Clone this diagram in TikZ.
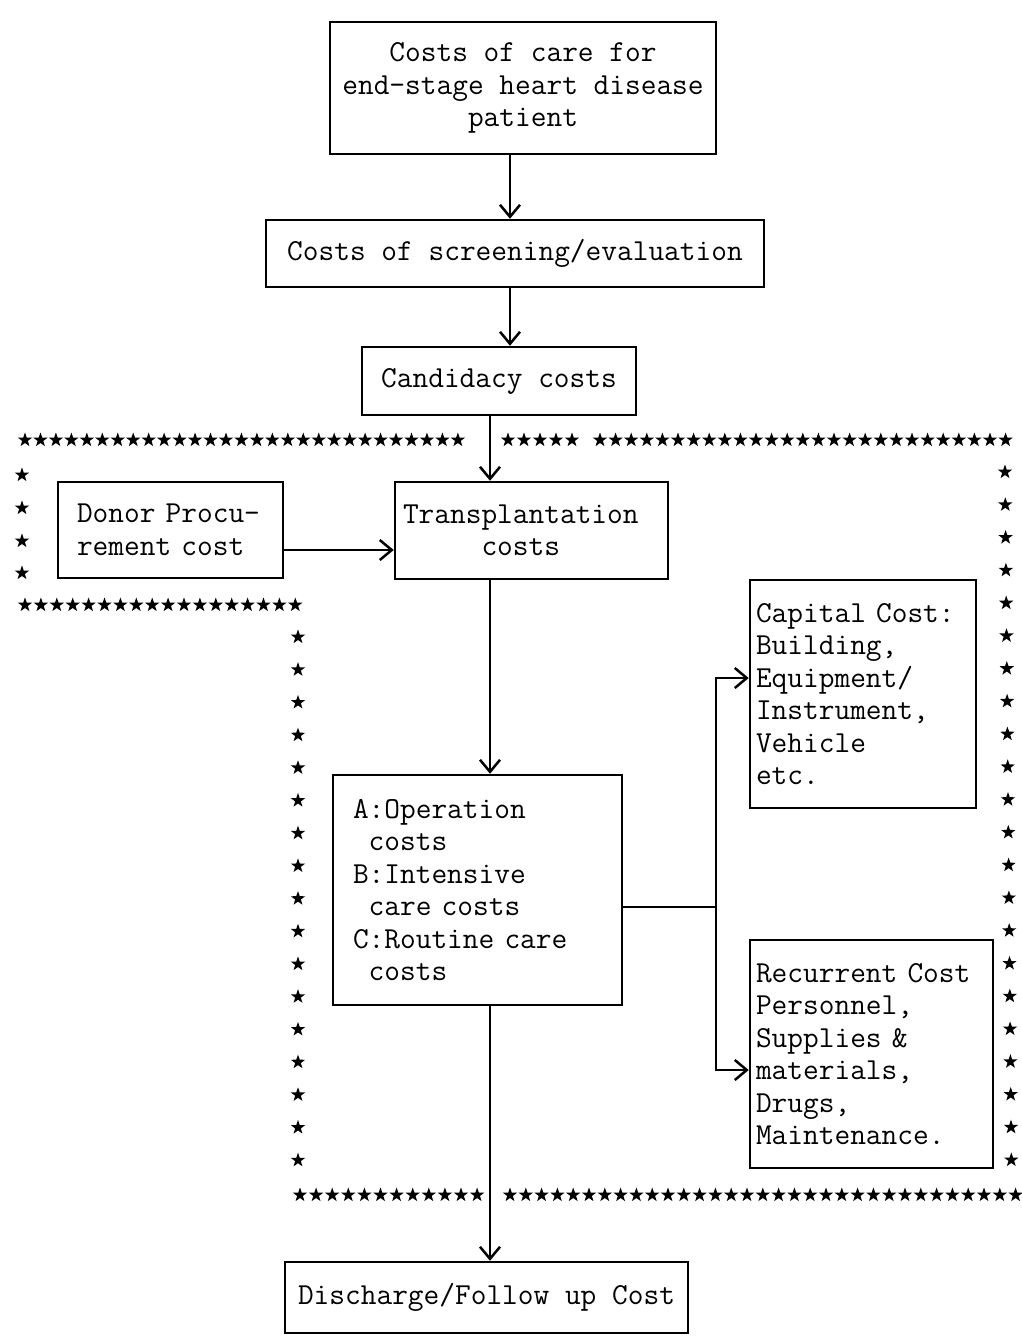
\documentclass[tikz,border=0pt]{standalone}
\usetikzlibrary{arrows.meta}
\begin{document}
\begin{tikzpicture}[x=1pt,y=-1pt,
  lw/.style={line width=2.5pt},
  box/.style={draw, lw, inner sep=0pt, font=\fontsize{30.5}{32.5}\selectfont\ttfamily},
  cbox/.style={box, align=center},
  lbox/.style={box, align=left},
  arr/.style={lw, -{Straight Barb[length=12pt,width=20pt]}},
  conn/.style={lw},
  astar/.pic={\fill (-90:7.5) -- (-54:3) -- (-18:7.5) -- (18:3) -- (54:7.5) -- (90:3) -- (126:7.5) -- (162:3) -- (198:7.5) -- (234:3) -- cycle;}
]
\useasboundingbox[fill=white] (0,0) rectangle (1021,1342);

% boxes
\node[cbox, minimum width=386pt, minimum height=132pt] (top) at (523,88)
  {Costs of care for\\end-stage heart disease\\patient};
\node[cbox, minimum width=498pt, minimum height=67pt] (scr) at (515,253.5)
  {Costs of screening/evaluation};
\node[cbox, minimum width=274pt, minimum height=68pt] (cand) at (499,381)
  {Candidacy costs};
\node[lbox, text width=257pt, inner xsep=8pt, minimum height=97pt] (trans) at (531.5,530.5)
  {Transplantation\\\phantom{xxxxx}costs};
\node[lbox, text width=187pt, inner xsep=19pt, minimum height=96pt] (donor) at (170.5,530)
  {Donor Procu-\\rement cost};
\node[lbox, text width=249pt, inner xsep=20pt, minimum height=230pt] (op) at (477.5,890)
  {A:Operation\\\phantom{A}costs\\B:Intensive\\\phantom{B}care costs\\C:Routine care\\\phantom{C}costs};
\node[lbox, text width=214pt, inner xsep=6pt, minimum height=228pt] (cap) at (863,694)
  {Capital Cost:\\Building,\\Equipment/\\Instrument,\\Vehicle\\etc.};
\node[lbox, text width=231pt, inner xsep=6pt, minimum height=228pt] (rec) at (871.5,1054)
  {Recurrent Cost\\Personnel,\\Supplies \&\\materials,\\Drugs,\\Maintenance.};
\node[cbox, minimum width=403pt, minimum height=71pt] (dis) at (486.5,1297.5)
  {Discharge/Follow up Cost};

% helper coordinates
\coordinate (colA) at (510,0);
\coordinate (colB) at (490,0);
\coordinate (colC) at (716,0);
\coordinate (dy) at (0,550);
\coordinate (by) at (0,907);
\coordinate (capy) at (0,678);
\coordinate (recy) at (0,1070);

% connectors
\draw[arr] (top.south -| colA) -- (scr.north -| colA);
\draw[arr] (scr.south -| colA) -- (cand.north -| colA);
\draw[arr] (cand.south -| colB) -- (trans.north -| colB);
\draw[arr] (donor.east |- dy) -- (trans.west |- dy);
\draw[arr] (trans.south -| colB) -- (op.north -| colB);
\draw[conn] (op.east |- by) -- (colC |- by);
\draw[arr] (colC |- by) -- (colC |- capy) -- (cap.west |- capy);
\draw[arr] (colC |- by) -- (colC |- recy) -- (rec.west |- recy);
\draw[arr] (op.south -| colB) -- (dis.north -| colB);

% star border
\foreach \i in {0,...,28} \pic at ({25+15.46*\i},440) {astar};
\foreach \i in {0,...,4} \pic at ({508+16*\i},440) {astar};
\foreach \i in {0,...,26} \pic at ({600+15.6*\i},440) {astar};
\foreach \y in {475,508,541,573} \pic at (22,\y) {astar};
\foreach \i in {0,...,17} \pic at ({25+15.9*\i},605) {astar};
\foreach \i in {0,...,16} \pic at (298,{637+32.7*\i}) {astar};
\foreach \i in {0,...,11} \pic at ({300+16.1*\i},1195) {astar};
\foreach \i in {0,...,32} \pic at ({510+15.8*\i},1195) {astar};
\foreach \i in {0,...,21} \pic at ({1005+0.3*\i},{472+32.76*\i}) {astar};
\end{tikzpicture}
\end{document}
